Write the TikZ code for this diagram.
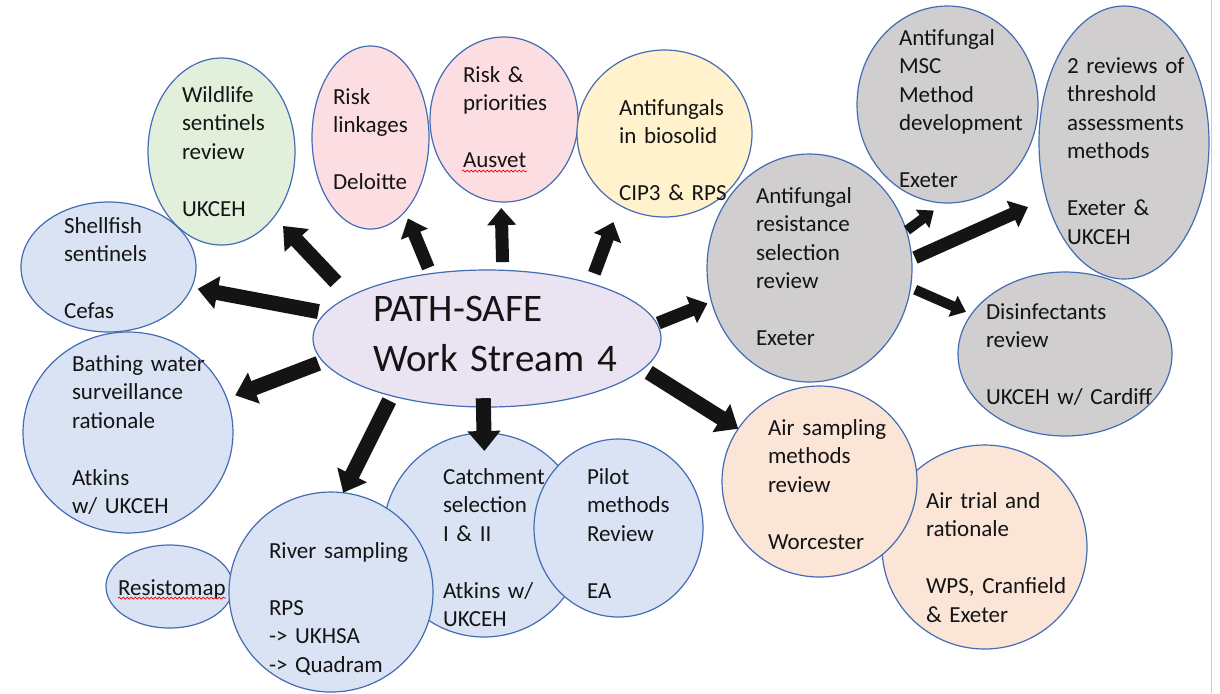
\documentclass[tikz,border=0pt]{standalone}
\usepackage{fontspec}
\setmainfont{Carlito}
\usetikzlibrary{arrows.meta,shapes.geometric,decorations.pathmorphing}
\definecolor{edgeblue}{RGB}{68,108,180}
\definecolor{cgreen}{RGB}{226,239,218}
\definecolor{cpink}{RGB}{252,222,226}
\definecolor{cyellow}{RGB}{255,242,204}
\definecolor{cgray}{RGB}{208,206,206}
\definecolor{cpeach}{RGB}{251,229,214}
\definecolor{cblue}{RGB}{218,227,243}
\definecolor{clav}{RGB}{234,228,242}
\definecolor{ink}{RGB}{20,20,20}
\begin{document}
\begin{tikzpicture}[x=0.5pt,y=-0.5pt,
  bub/.style={ellipse, draw=edgeblue, line width=0.6pt, inner sep=0pt, outer sep=0pt},
  txt/.style={anchor=base west, inner sep=0pt, outer sep=0pt, text width=100pt, align=left,
              font=\fontsize{11.5pt}{14.25pt}\selectfont, text=ink},
  bigarrow/.style={draw=ink, line width=7.5pt, -{Triangle[length=10pt,width=16pt]}},
  midarrow/.style={draw=ink, line width=6.5pt, -{Triangle[length=8.5pt,width=14pt]}},
  smallarrow/.style={draw=ink, line width=5pt, -{Triangle[length=7pt,width=11pt]}},
  squig/.style={draw=red, line width=0.35pt, decorate, decoration={snake, amplitude=0.5pt, segment length=2pt}}
]
\fill[white] (0,0) rectangle (1220,693);
\useasboundingbox (0,0) rectangle (1220,693);
\draw[black!20, line width=0.5pt] (1211,0) -- (1211,693);

% bubbles
\node[bub, fill=cblue, minimum width=87.5pt, minimum height=65pt] (shell) at (108.5,267) {};
\node[bub, fill=cgreen, minimum width=73.5pt, minimum height=93.5pt] (wild) at (221.5,151.5) {};
\node[bub, fill=cpink, minimum width=58.5pt, minimum height=91.5pt] (rlink) at (370.5,137.5) {};
\node[bub, fill=cpink, minimum width=74pt, minimum height=82.5pt] (rpri) at (504,119.5) {};
\node[bub, fill=cyellow, minimum width=87.5pt, minimum height=83.5pt] (bio) at (664.5,133.5) {};
\node[bub, fill=cgray, minimum width=102.5pt, minimum height=114pt] (res) at (809.5,268) {};
\node[bub, fill=cgray, minimum width=90.5pt, minimum height=98.5pt] (msc) at (947.5,104.5) {};
\node[bub, fill=cgray, minimum width=85pt, minimum height=136.5pt] (two) at (1124,142.5) {};
\node[bub, fill=cgray, minimum width=107pt, minimum height=82pt] (dis) at (1065,354) {};
\node[bub, fill=cpeach, minimum width=102.5pt, minimum height=102pt] (airt) at (984.5,547) {};
\node[bub, fill=cpeach, minimum width=97.5pt, minimum height=95.5pt] (airs) at (819.5,481.5) {};
\node[bub, fill=cblue, minimum width=105pt, minimum height=100.5pt] (bath) at (128,432.5) {};
\node[bub, fill=cblue, minimum width=63.5pt, minimum height=41.5pt] (resmap) at (169.5,586.5) {};
\node[bub, fill=cblue, minimum width=101pt, minimum height=102pt] (catch) at (484,535) {};
\node[bub, fill=cblue, minimum width=102pt, minimum height=100pt] (river) at (331,592) {};
\node[bub, fill=cblue, minimum width=84.5pt, minimum height=89pt] (pilot) at (618.5,528) {};
\node[bub, fill=clav, minimum width=174pt, minimum height=68.5pt] (c) at (487,338.5) {};

% texts
\node[txt] (shell-t) at (64,233) {Shellfish\\sentinels\\\mbox{}\\Cefas};
\node[txt] (wild-t) at (182,102) {Wildlife\\sentinels\\review\\\mbox{}\\UKCEH};
\node[txt] (rlink-t) at (333,104) {Risk\\linkages\\\mbox{}\\Deloitte};
\node[txt] (rpri-t) at (463,82) {Risk \&\\priorities\\\mbox{}\\Ausvet};
\node[txt] (bio-t) at (619,115) {Antifungals\\in biosolid\\\mbox{}\\CIP3 \& RPS};
\node[txt] (res-t) at (756,203) {Antifungal\\resistance\\selection\\review\\\mbox{}\\Exeter};
\node[txt] (msc-t) at (899,45) {Antifungal\\MSC\\Method\\development\\\mbox{}\\Exeter};
\node[txt] (two-t) at (1067,73) {2 reviews of\\threshold\\assessments\\methods\\\mbox{}\\Exeter \&\\UKCEH};
\node[txt] (dis-t) at (986,319) {Disinfectants\\review\\\mbox{}\\UKCEH w/ Cardiff};
\node[txt] (airs-t) at (768,435) {Air sampling\\methods\\review\\\mbox{}\\Worcester};
\node[txt] (airt-t) at (926,508) {Air trial and\\rationale\\\mbox{}\\WPS, Cranfield\\\& Exeter};
\node[txt] (pilot-t) at (587,484) {Pilot\\methods\\Review\\\mbox{}\\EA};
\node[txt] (catch-t) at (443,484) {Catchment\\selection\\I \& II\\\mbox{}\\Atkins w/\\UKCEH};
\node[txt] (river-t) at (269,558) {River sampling\\\mbox{}\\RPS\\-> UKHSA\\-> Quadram};
\node[txt] (resmap-t) at (118,595) {Resistomap};
\node[txt] (bath-t) at (72,371) {Bathing water\\surveillance\\rationale\\\mbox{}\\Atkins\\w/ UKCEH};
\node[txt, text width=140pt, font=\fontsize{19.5pt}{25pt}\selectfont] (c-t) at (373,321) {PATH-SAFE\\Work Stream 4};

% spell-check underlines
\draw[squig] (462,171) -- (527,171);
\draw[squig] (118,598) -- (226,598);

% arrows
\draw[bigarrow, shorten <=3.65pt, shorten >=3.15pt] (c.171.6) -- (shell.-14.8);
\draw[bigarrow, shorten <=10pt, shorten >=6.4pt] (c.163.9) -- (wild.-51.8);
\draw[midarrow, shorten <=3.15pt, shorten >=3.8pt] (c.131.8) -- (rlink.-65.5);
\draw[midarrow, shorten <=4.1pt, shorten >=3.05pt] (c.77.4) -- (rpri.-92.9);
\draw[midarrow, shorten <=5.4pt, shorten >=9pt] (c.28.6) -- (bio.-122);
\draw[midarrow, shorten <=0.75pt, shorten >=2.25pt] (c.5.0) -- (res.-161.9);
\draw[bigarrow, shorten <=2.55pt, shorten >=4.5pt] (c.-172.1) -- (bath.19.2);
\draw[bigarrow, shorten <=2.65pt] (c.-149.9) -- (river.83.1);
\draw[bigarrow, shorten <=-4.4pt, shorten >=-9pt] (c.-93.8) -- (catch.90.6);
\draw[bigarrow, shorten <=3.35pt] (c.-11.3) -- (airs.147.2);
\draw[smallarrow, shorten <=0.4pt, shorten >=6.4pt] (res.21.3) -- (msc.-92.4);
\draw[midarrow, shorten <=1.8pt, shorten >=10.15pt] (res.5.3) -- (two.-144);
\draw[smallarrow, shorten <=2.55pt, shorten >=3pt] (res.-11.2) -- (dis.157.8);
\end{tikzpicture}
\end{document}
